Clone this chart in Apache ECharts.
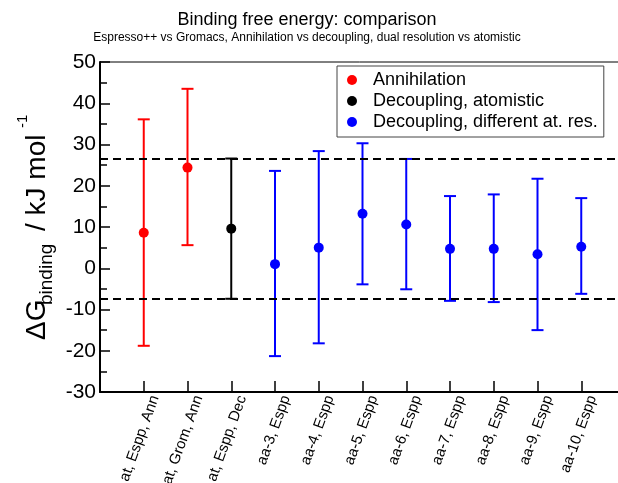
<!DOCTYPE html>
<html>
<head>
<meta charset="utf-8">
<script src="https://cdn.jsdelivr.net/npm/echarts@6/dist/echarts.min.js"></script>
<style>
html,body{margin:0;padding:0;background:#fff;}
#chart{width:618px;height:483px;}
</style>
</head>
<body>
<div id="chart"></div>
<script>
// data
const categories = ['at, Espp, Ann', 'at, Grom, Ann', 'at, Espp, Dec', 'aa-3, Espp', 'aa-4, Espp', 'aa-5, Espp',
  'aa-6, Espp', 'aa-7, Espp', 'aa-8, Espp', 'aa-9, Espp', 'aa-10, Espp'];
const groups = [0, 0, 1, 2, 2, 2, 2, 2, 2, 2, 2];
const seriesNames = ['Annihilation', 'Decoupling, atomistic', 'Decoupling, different at. res.'];
const seriesColors = ['#ff0000', '#000000', '#0000ff'];
const means = [8.6, 24.4, 9.6, 1.0, 5.0, 13.2, 10.6, 4.7, 4.7, 3.4, 5.2];
const lows = [-18.8, 5.6, -7.4, -21.3, -18.2, -3.9, -5.1, -7.9, -8.2, -15.0, -6.2];
const highs = [36.1, 43.5, 26.6, 23.6, 28.4, 30.3, 26.5, 17.5, 17.9, 21.7, 17.0];
const refLines = [26.6, -7.4];
const yMin = -30, yMax = 50, yStep = 10;

const FONT = 'Liberation Sans, Arial, sans-serif';
var myChart = echarts.init(document.getElementById('chart'));

function renderErr(params, api) {
  const x = api.value(0);
  const top = api.coord([x, api.value(2)]);
  const bot = api.coord([x, api.value(1)]);
  const w = 6;
  const style = { stroke: api.visual('color'), lineWidth: 2 };
  return {
    type: 'group',
    children: [
      { type: 'line', shape: { x1: top[0], y1: top[1], x2: bot[0], y2: bot[1] }, style: style },
      { type: 'line', shape: { x1: top[0] - w, y1: top[1], x2: top[0] + w, y2: top[1] }, style: style },
      { type: 'line', shape: { x1: bot[0] - w, y1: bot[1], x2: bot[0] + w, y2: bot[1] }, style: style }
    ]
  };
}

const series = [];
seriesNames.forEach(function (name, g) {
  const idx = categories.map(function (c, i) { return i; }).filter(function (i) { return groups[i] === g; });
  series.push({
    name: 'err' + g,
    type: 'custom',
    color: seriesColors[g],
    renderItem: renderErr,
    data: idx.map(function (i) { return [i + 1, lows[i], highs[i]]; }),
    z: 3
  });
});
seriesNames.forEach(function (name, g) {
  const idx = categories.map(function (c, i) { return i; }).filter(function (i) { return groups[i] === g; });
  series.push({
    name: name,
    type: 'scatter',
    color: seriesColors[g],
    itemStyle: { opacity: 1 },
    symbol: 'circle',
    symbolSize: 10,
    data: idx.map(function (i) { return [i + 1, means[i]]; }),
    z: 4
  });
});
// dashed reference lines
series[0].markLine = {
  silent: true,
  symbol: ['none', 'none'],
  label: { show: false },
  lineStyle: { color: '#000', type: [8, 5], width: 2 },
  data: refLines.map(function (v) { return { yAxis: v }; })
};

var option = {
  animation: false,
  textStyle: { fontFamily: FONT },
  title: {
    text: 'Binding free energy: comparison',
    subtext: 'Espresso++ vs Gromacs, Annihilation vs decoupling, dual resolution vs atomistic',
    left: 307,
    textAlign: 'center',
    top: 11,
    padding: 0,
    itemGap: 3,
    textStyle: { fontFamily: FONT, fontSize: 18, fontWeight: 'normal', color: '#000' },
    subtextStyle: { fontFamily: FONT, fontSize: 12, color: '#000' }
  },
  legend: {
    data: seriesNames,
    orient: 'vertical',
    left: 337,
    top: 66,
    padding: [5, 6, 6, 10],
    itemGap: 3,
    itemWidth: 10,
    itemHeight: 10,
    icon: 'circle',
    backgroundColor: '#fff',
    borderColor: '#444',
    borderWidth: 1,
    borderRadius: 0,
    textStyle: { fontFamily: FONT, fontSize: 18, color: '#000', lineHeight: 18, padding: [0, 0, 0, 11] }
  },
  grid: {
    left: 100,
    top: 62,
    width: 525,
    height: 330,
    show: true,
    borderColor: '#000',
    borderWidth: 1,
    outerBoundsMode: 'none'
  },
  xAxis: {
    type: 'value',
    min: 0,
    max: 12,
    interval: 1,
    axisLine: { onZero: false, lineStyle: { color: '#000', width: 2 } },
    axisTick: { inside: true, length: 11, lineStyle: { color: '#000', width: 1.5 } },
    splitLine: { show: false },
    axisLabel: {
      rotate: 70,
      margin: 0,
      fontSize: 15,
      lineHeight: 24,
      verticalAlign: 'top',
      color: '#000',
      fontFamily: FONT,
      formatter: function (v) { return categories[v - 1] || ''; }
    }
  },
  yAxis: {
    type: 'value',
    min: yMin,
    max: yMax,
    interval: yStep,
    axisLine: { show: true, onZero: false, lineStyle: { color: '#000', width: 2 } },
    axisTick: { show: true, inside: true, length: 10, lineStyle: { color: '#000', width: 1.5 } },
    minorTick: { show: true, splitNumber: 2, length: 7, lineStyle: { color: '#000', width: 1.5 } },
    splitLine: { show: false },
    axisLabel: { fontSize: 21, color: '#000', margin: 4, fontFamily: FONT }
  },
  graphic: [
    { type: 'text', x: 37, y: 340, rotation: Math.PI / 2,
      style: { text: '\u0394G', font: '28px ' + FONT, fill: '#000', textAlign: 'left', textVerticalAlign: 'middle' } },
    { type: 'text', x: 46.5, y: 305, rotation: Math.PI / 2,
      style: { text: 'binding', font: '19px ' + FONT, fill: '#000', textAlign: 'left', textVerticalAlign: 'middle' } },
    { type: 'text', x: 37, y: 231, rotation: Math.PI / 2,
      style: { text: '/ kJ mol', font: '28px ' + FONT, fill: '#000', textAlign: 'left', textVerticalAlign: 'middle' } },
    { type: 'text', x: 23, y: 128, rotation: Math.PI / 2,
      style: { text: '-1', font: '15px ' + FONT, fill: '#000', textAlign: 'left', textVerticalAlign: 'middle' } }
  ],
  series: series
};

myChart.setOption(option);
</script>
</body>
</html>
